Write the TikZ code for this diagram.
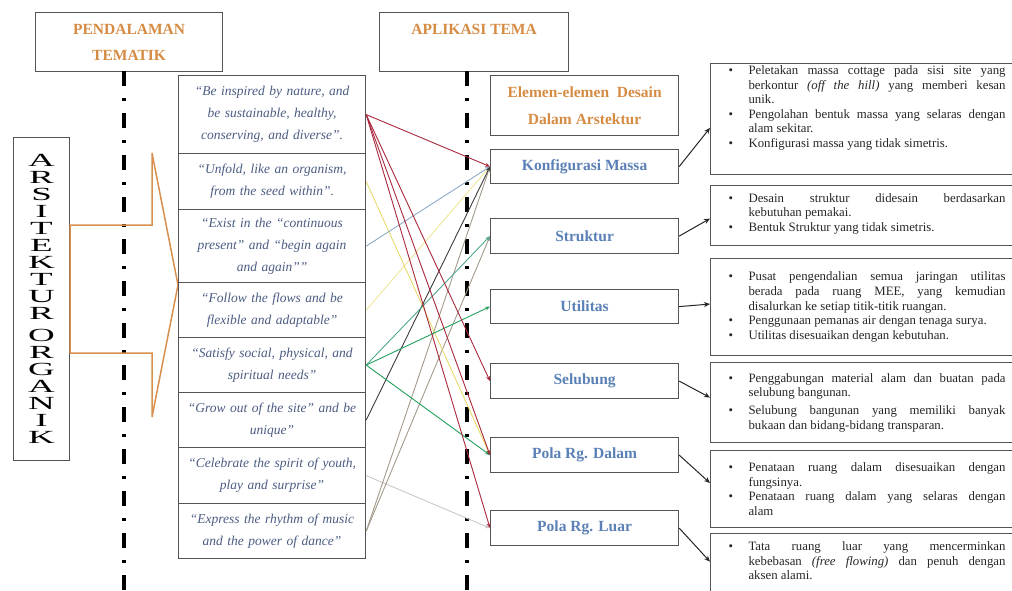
\documentclass[tikz,border=0pt]{standalone}
\usepackage{fontspec}
\usepackage{graphicx}
\setmainfont{Liberation Serif}
\usetikzlibrary{arrows.meta,calc}
\definecolor{hdr}{HTML}{D68B43}
\definecolor{qtxt}{HTML}{4B5B82}
\definecolor{etxt}{HTML}{5A80B6}
\definecolor{bord}{HTML}{555555}
\definecolor{cred}{HTML}{A8283C}
\definecolor{cyel}{HTML}{E6DA6A}
\definecolor{cpyel}{HTML}{EEE69A}
\definecolor{cblue}{HTML}{8CAAC8}
\definecolor{cteal}{HTML}{4FA88E}
\definecolor{cgreen}{HTML}{23A05E}
\definecolor{cdark}{HTML}{3C3C3C}
\definecolor{cbrown}{HTML}{A39A8A}
\definecolor{clgray}{HTML}{C9C9C9}
\definecolor{corange}{HTML}{D98F4E}
\newcommand{\dset}{\tolerance=10000\relax\hyphenpenalty=10000\relax}
\newcommand{\bul}[1]{\noindent\hangindent=20pt\hangafter=1\makebox[20pt][l]{\textbullet}#1\par}
\newcommand{\wl}[1]{\scalebox{2.0}[1]{#1}}
\begin{document}
\begin{tikzpicture}[x=1pt,y=-1pt,
  hdrbox/.style={draw=bord,line width=1.2pt,anchor=north west,inner sep=0pt,align=center,
    font=\fontsize{15.5}{26}\selectfont\bfseries,text=hdr},
  qbox/.style={draw=bord,line width=1.2pt,anchor=north west,inner sep=0pt,minimum width=187pt,
    text width=180pt,align=center,font=\fontsize{13.5}{22}\selectfont\itshape,text=qtxt},
  ebox/.style={draw=bord,line width=1.2pt,anchor=north west,inner sep=0pt,minimum width=188pt,
    font=\fontsize{15.5}{27}\selectfont\bfseries,text=etxt,align=center},
  dbox/.style={draw=bord,line width=1.1pt,anchor=north west,inner xsep=18pt,inner ysep=2pt,
    text width=277pt,align=justify,
    font=\fontsize{12.8}{14.6}\selectfont,text=black!85},
  conn/.style={line width=0.9pt,-{Stealth[length=5pt,width=4pt]}},
  darr/.style={line width=1pt,black!85,-{Stealth[length=6pt,width=5pt]}},
  dashdot/.style={line width=3.4pt,black,dash pattern=on 15pt off 12pt on 3pt off 12pt}
]
\useasboundingbox (0,0) rectangle (1012,591);

% headers
\node[hdrbox,minimum width=187pt,minimum height=59pt] (h1) at (35,12) {PENDALAMAN\\TEMATIK};
\node[hdrbox,minimum width=189pt,minimum height=59pt] (h2) at (379,12) {APLIKASI TEMA\\\mbox{}};

% dash-dot lines
\coordinate (t1) at (124,71); \coordinate (b1) at (124,590);
\coordinate (t2) at (467,71); \coordinate (b2) at (467,590);
\draw[dashdot] (t1) -- (b1);
\draw[dashdot] (t2) -- (b2);

% Arsitektur Organik
\node[draw=bord,line width=1.1pt,anchor=north west,minimum width=56pt,minimum height=323pt,inner sep=0pt,
  align=center,font=\fontsize{18.5}{17}\selectfont] (ao) at (13,137)
  {\wl{A}\\\wl{R}\\\wl{S}\\\wl{I}\\\wl{T}\\\wl{E}\\\wl{K}\\\wl{T}\\\wl{U}\\\wl{R}\\[5pt]\wl{O}\\\wl{R}\\\wl{G}\\\wl{A}\\\wl{N}\\\wl{I}\\\wl{K}};
\draw[corange,line width=1.5pt,line join=miter] (ao.east |- 0,225) -- (152,225) -- (152,153) -- (178,285)
  -- (152,417) -- (152,353) -- (ao.east |- 0,353) -- cycle;

% quote boxes
\node[qbox,minimum height=78pt] (q1) at (178,75) {“Be inspired by nature, and\\be sustainable, healthy,\\conserving, and diverse”.};
\node[qbox,minimum height=56pt] (q2) at (178,153) {“Unfold, like an organism,\\from the seed within”.};
\node[qbox,minimum height=73pt] (q3) at (178,209) {“Exist in the “continuous\\present” and “begin again\\and again””};
\node[qbox,minimum height=55pt] (q4) at (178,282) {“Follow the flows and be\\flexible and adaptable”};
\node[qbox,minimum height=55pt] (q5) at (178,337) {“Satisfy social, physical, and\\spiritual needs”};
\node[qbox,minimum height=55pt] (q6) at (178,392) {“Grow out of the site” and be\\unique”};
\node[qbox,minimum height=56pt] (q7) at (178,447) {“Celebrate the spirit of youth,\\play and surprise”};
\node[qbox,minimum height=55pt] (q8) at (178,503) {“Express the rhythm of music\\and the power of dance”};

% element boxes
\node[ebox,minimum height=60pt,text=hdr] (el) at (490,75) {Elemen-elemen\ \ Desain\\Dalam Arstektur};
\node[ebox,minimum height=34pt] (konf) at (490,149) {Konfigurasi Massa};
\node[ebox,minimum height=35pt] (stru) at (490,218) {Struktur};
\node[ebox,minimum height=34pt] (util) at (490,289) {Utilitas};
\node[ebox,minimum height=35pt] (selu) at (490,363) {Selubung};
\node[ebox,minimum height=35pt] (dalam) at (490,437) {Pola Rg. Dalam};
\node[ebox,minimum height=35pt] (luar) at (490,510) {Pola Rg. Luar};

% description boxes
\node[dbox,minimum height=110pt] (d1) at (710,63) {\dset
\bul{Peletakan massa cottage pada sisi site yang\linebreak berkontur \textit{(off the hill)} yang memberi kesan\linebreak unik.}
\bul{Pengolahan bentuk massa yang selaras dengan\linebreak alam sekitar.}
\bul{Konfigurasi massa yang tidak simetris.}\vspace{22pt}};
\node[dbox,minimum height=60pt] (d2) at (710,185) {\dset
\bul{Desain struktur didesain berdasarkan\linebreak kebutuhan pemakai.}
\bul{Bentuk Struktur yang tidak simetris.}\vspace{4pt}};
\node[dbox,minimum height=97pt] (d3) at (710,258) {\dset
\bul{Pusat pengendalian semua jaringan utilitas\linebreak berada pada ruang MEE, yang kemudian\linebreak disalurkan ke setiap titik-titik ruangan.}
\bul{Penggunaan pemanas air dengan tenaga surya.}
\bul{Utilitas disesuaikan dengan kebutuhan.}};
\node[dbox,minimum height=80pt] (d4) at (710,362) {\dset
\bul{Penggabungan material alam dan buatan pada\linebreak selubung bangunan.}\vspace{3pt}
\bul{Selubung bangunan yang memiliki banyak\linebreak bukaan dan bidang-bidang transparan.}};
\node[dbox,inner ysep=8pt] (d6) at (710,533) {\dset
\bul{Tata ruang luar yang mencerminkan\linebreak kebebasan \textit{(free flowing)} dan penuh dengan\linebreak aksen alami.}\vspace{30pt}};
\node[dbox,minimum height=77pt] (d5) at (710,450) {\dset
\bul{Penataan ruang dalam disesuaikan dengan\linebreak fungsinya.}
\bul{Penataan ruang dalam yang selaras dengan\linebreak alam}};

% element -> description arrows
\draw[darr] (konf.east) -- ([yshift=-9pt]d1.west);
\draw[darr] (stru.east) -- ([yshift=-3pt]d2.west);
\draw[darr] (util.east) -- ([yshift=3pt]d3.west);
\draw[darr] (selu.east) -- ([yshift=5pt]d4.west);
\draw[darr] (dalam.east) -- ([yshift=6pt]d5.west);
\draw[darr] (luar.east) -- ([yshift=14pt]d6.west);

% quote -> element connectors
\draw[conn,clgray] (q7.east) -- (luar.west);
\draw[conn,cbrown] (q8.east) -- (konf.west);
\draw[conn,cbrown] (q8.east) -- (stru.west);
\draw[conn,cpyel] (q4.east) -- (konf.west);
\draw[conn,cyel] (q2.east) -- (dalam.west);
\draw[conn,cblue] (q3.east) -- (konf.west);
\draw[conn,cdark] (q6.east) -- (konf.west);
\draw[conn,cteal] (q5.east) -- (stru.west);
\draw[conn,cgreen] (q5.east) -- (util.west);
\draw[conn,cgreen] (q5.east) -- (dalam.west);
\draw[conn,cred] (q1.east) -- (konf.west);
\draw[conn,cred] (q1.east) -- (selu.west);
\draw[conn,cred] (q1.east) -- (dalam.west);
\draw[conn,cred] (q1.east) -- (luar.west);
\end{tikzpicture}
\end{document}
